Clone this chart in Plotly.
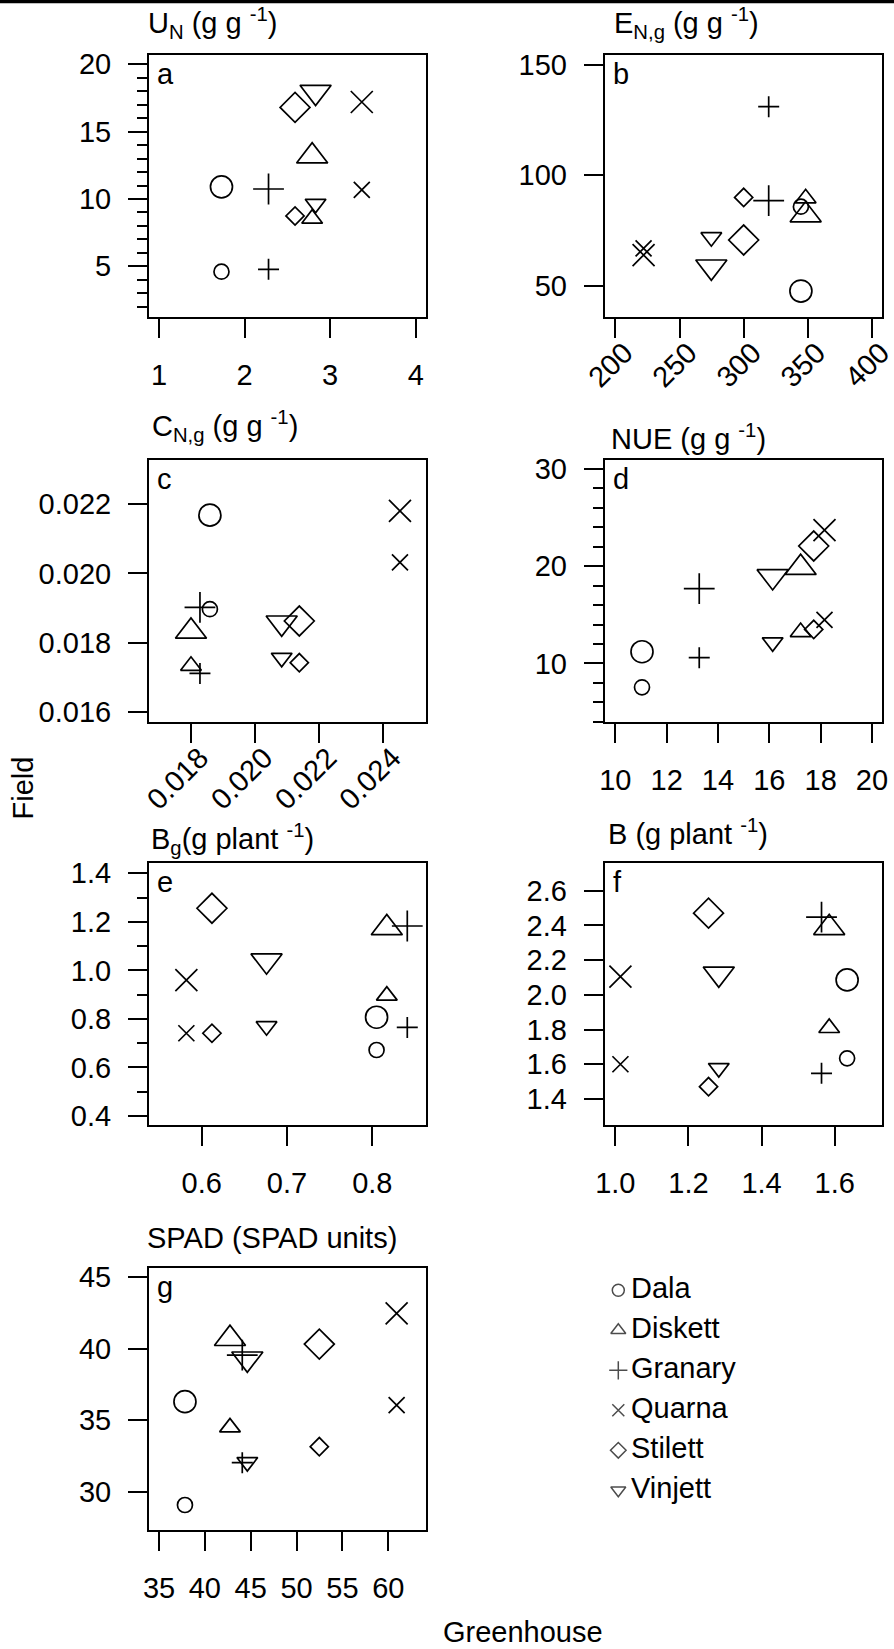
import plotly.graph_objects as go

# ---------------- data ----------------
varieties = ["Dala", "Diskett", "Granary", "Quarna", "Stilett", "Vinjett"]

# a: U_N
un_gh = [1.73, 2.79, 2.28, 3.37, 2.59, 2.83]
un_field_1 = [10.9, 13.18, 10.74, 17.2, 16.8, 17.94]
un_field_2 = [4.6, 8.54, 4.78, 10.67, 8.74, 9.64]

# b: E_N,g
eng_gh = [344.6, 348.3, 319.5, 222.0, 300.0, 274.8]
eng_field_1 = [47.6, 82.0, 88.5, 63.9, 70.7, 58.6]
eng_field_2 = [85.8, 89.6, 131.1, 66.9, 90.0, 72.0]

# c: C_N,g
cng_gh = [0.01859, 0.01800, 0.01828, 0.02452, 0.02138, 0.02083]
cng_field_1 = [0.02168, 0.01833, 0.01902, 0.02180, 0.01863, 0.01858]
cng_field_2 = [0.01897, 0.01734, 0.01712, 0.02032, 0.01743, 0.01757]

# d: NUE
nue_gh = [11.04, 17.22, 13.27, 18.15, 17.73, 16.13]
nue_field_1 = [11.2, 19.85, 17.69, 23.72, 22.08, 18.95]
nue_field_2 = [7.54, 13.22, 10.59, 14.47, 13.5, 12.17]

# e: B_g
bg_gh = [0.805, 0.817, 0.841, 0.582, 0.612, 0.676]
bg_field_1 = [0.807, 1.175, 1.183, 0.960, 1.256, 1.040]
bg_field_2 = [0.672, 0.896, 0.765, 0.741, 0.741, 0.770]

# f: B
b_gh = [1.634, 1.585, 1.564, 1.014, 1.255, 1.283]
b_field_1 = [2.086, 2.386, 2.447, 2.105, 2.470, 2.121]
b_field_2 = [1.634, 1.809, 1.548, 1.600, 1.471, 1.578]

# g: SPAD
spad_gh = [37.83, 42.74, 44.08, 60.91, 52.48, 44.63]
spad_field_1 = [36.3, 40.7, 39.56, 42.48, 40.33, 39.3]
spad_field_2 = [29.07, 34.5, 32.03, 36.06, 33.15, 32.07]

panel_titles = [
    "U<sub>N</sub> (g g <sup>-1</sup>)",
    "E<sub>N,g</sub> (g g <sup>-1</sup>)",
    "C<sub>N,g</sub> (g g <sup>-1</sup>)",
    "NUE (g g <sup>-1</sup>)",
    "B<sub>g</sub>(g plant <sup>-1</sup>)",
    "B (g plant <sup>-1</sup>)",
    "SPAD (SPAD units)",
]
panel_letters = ["a", "b", "c", "d", "e", "f", "g"]

# ---------------- styling ----------------
W, H = 894, 1649
FONT = "Liberation Sans, Arial, Helvetica, sans-serif"
FS = 29
symbols = ["circle-open", "triangle-up-open", "cross-thin-open",
           "x-thin-open", "diamond-open", "triangle-down-open"]
size_1 = [22, 27, 22, 22, 23, 27]
size_2 = [15, 18, 15, 16, 14, 18]
LW = 1.7

panels = [
    dict(xp=(149, 425.7), yp=(55, 316.7), xr=[0.883, 4.117], yr=[1.26, 20.69],
         xt=[1, 2, 3, 4], yt=[5, 10, 15, 20], xf="", yf="", xa=0, ym=1,
         data=(un_gh, un_field_1, un_field_2)),
    dict(xp=(604.7, 882), yp=(55, 317.3), xr=[191.7, 407.8], yr=[35.7, 154.5],
         xt=[200, 250, 300, 350, 400], yt=[50, 100, 150], xf="", yf="", xa=-45, ym=None,
         data=(eng_gh, eng_field_1, eng_field_2)),
    dict(xp=(149, 425.7), yp=(460, 722.3), xr=[0.01669, 0.025323], yr=[0.015712, 0.023268],
         xt=[0.018, 0.020, 0.022, 0.024], yt=[0.016, 0.018, 0.020, 0.022], xf=".3f", yf=".3f",
         xa=-45, ym=None, data=(cng_gh, cng_field_1, cng_field_2)),
    dict(xp=(604.7, 882), yp=(460, 721.7), xr=[9.587, 20.39], yr=[4.0, 30.93],
         xt=[10, 12, 14, 16, 18, 20], yt=[10, 20, 30], xf="", yf="", xa=0, ym=2,
         data=(nue_gh, nue_field_1, nue_field_2)),
    dict(xp=(149, 425.7), yp=(862.7, 1125), xr=[0.5382, 0.8626], yr=[0.363, 1.4437],
         xt=[0.6, 0.7, 0.8], yt=[0.4, 0.6, 0.8, 1.0, 1.2, 1.4], xf=".1f", yf=".1f", xa=0, ym=0.1,
         data=(bg_gh, bg_field_1, bg_field_2)),
    dict(xp=(604.7, 882), yp=(862.7, 1125), xr=[0.971, 1.7294], yr=[1.2502, 2.761],
         xt=[1.0, 1.2, 1.4, 1.6], yt=[1.4, 1.6, 1.8, 2.0, 2.2, 2.4, 2.6], xf=".1f", yf=".1f",
         xa=0, ym=None, data=(b_gh, b_field_1, b_field_2)),
    dict(xp=(149, 425.7), yp=(1267.7, 1530), xr=[33.91, 64.08], yr=[27.32, 45.67],
         xt=[35, 40, 45, 50, 55, 60], yt=[30, 35, 40, 45], xf="", yf="", xa=0, ym=None,
         data=(spad_gh, spad_field_1, spad_field_2)),
]
title_pos = [(146, 23), (612, 23), (150, 426), (609, 437), (149, 839), (606, 832), (145, 1238)]


def px_x(v):
    return v / W


def px_y(v):
    return 1 - v / H


fig = go.Figure()
layout = dict(
    template="none",
    width=W, height=H, autosize=False,
    margin=dict(l=0, r=0, t=0, b=0, pad=0, autoexpand=False),
    paper_bgcolor="white", plot_bgcolor="white",
    showlegend=False,
    font=dict(family=FONT, size=FS, color="black"),
)
annotations = []

for i, p in enumerate(panels):
    k = "" if i == 0 else str(i + 1)
    xa_name, ya_name = "xaxis" + k, "yaxis" + k
    xref, yref = "x" + k, "y" + k
    gh, f1, f2 = p["data"]
    for j, v in enumerate(varieties):
        for fvals, sizes in ((f1, size_1), (f2, size_2)):
            fig.add_trace(go.Scatter(
                x=[gh[j]], y=[fvals[j]], mode="markers", name=v,
                xaxis=xref, yaxis=yref, hoverinfo="skip", cliponaxis=False,
                marker=dict(symbol=symbols[j], size=sizes[j], color="black",
                            line=dict(color="black", width=LW)),
            ))
    rotated = p["xa"] != 0
    xaxis = dict(
        domain=[px_x(p["xp"][0]), px_x(p["xp"][1])], range=p["xr"], automargin=False,
        anchor=yref, showline=True, mirror=True, linecolor="black", linewidth=2,
        showgrid=False, zeroline=False, ticks="outside", ticklen=19, tickwidth=2,
        tickcolor="black", tickvals=p["xt"], tickformat=p["xf"],
        tickangle=p["xa"], ticklabelstandoff=(-14 if rotated else 12),
        ticklabelshift=(9 if rotated else 0), ticklabeloverflow="allow",
        tickfont=dict(family=FONT, size=FS, color="black"),
    )
    yaxis = dict(
        domain=[px_y(p["yp"][1]), px_y(p["yp"][0])], range=p["yr"], automargin=False,
        anchor=xref, showline=True, mirror=True, linecolor="black", linewidth=2,
        showgrid=False, zeroline=False, ticks="outside", ticklen=19, tickwidth=2,
        tickcolor="black", tickvals=p["yt"], tickformat=p["yf"], ticklabelstandoff=11,
        ticklabeloverflow="allow",
        tickfont=dict(family=FONT, size=FS, color="black"),
    )
    if p["ym"] is not None:
        yaxis["minor"] = dict(dtick=p["ym"], tick0=0, ticks="outside", ticklen=10,
                              tickwidth=2, tickcolor="black", showgrid=False)
    layout[xa_name] = xaxis
    layout[ya_name] = yaxis
    tx, ty = title_pos[i]
    annotations.append(dict(text=panel_titles[i], x=px_x(tx), y=px_y(ty), xref="paper",
                            yref="paper", xanchor="left", yanchor="middle", showarrow=False,
                            font=dict(family=FONT, size=FS, color="black")))
    annotations.append(dict(text=panel_letters[i], x=px_x(p["xp"][0] + 6),
                            y=px_y(p["yp"][0] + 1), xref="paper", yref="paper",
                            xanchor="left", yanchor="top", showarrow=False,
                            font=dict(family=FONT, size=FS, color="black")))

# legend panel built from the variety list
leg_x = "x8"
leg_y = "y8"
fig.add_trace(go.Scatter(
    x=[28.3] * len(varieties), y=list(range(len(varieties))), mode="markers",
    xaxis=leg_x, yaxis=leg_y, hoverinfo="skip",
    marker=dict(symbol=symbols, size=[12, 13, 13, 12, 12, 13], color="black",
                line=dict(color="black", width=1.5)),
))
fig.add_trace(go.Scatter(
    x=[41] * len(varieties), y=list(range(len(varieties))), mode="text",
    text=varieties, textposition="middle right", xaxis=leg_x, yaxis=leg_y,
    hoverinfo="skip", textfont=dict(family=FONT, size=FS, color="black"),
))
layout["xaxis8"] = dict(domain=[px_x(590), px_x(800)], range=[0, 210], visible=False,
                        anchor="y8", automargin=False)
layout["yaxis8"] = dict(domain=[px_y(1510.3), px_y(1270.3)], range=[5.5, -0.5],
                        visible=False, anchor="x8", automargin=False)

annotations.append(dict(text="Field", x=px_x(22.5), y=px_y(788), xref="paper", yref="paper",
                        xanchor="center", yanchor="middle", textangle=-90, showarrow=False,
                        font=dict(family=FONT, size=FS, color="black")))
annotations.append(dict(text="Greenhouse", x=px_x(523), y=px_y(1632), xref="paper",
                        yref="paper", xanchor="center", yanchor="middle", showarrow=False,
                        font=dict(family=FONT, size=FS, color="black")))
layout["annotations"] = annotations
layout["shapes"] = [dict(type="rect", xref="paper", yref="paper", x0=0, x1=1,
                         y0=px_y(3.3), y1=1, fillcolor="black", line=dict(width=0))]

fig.update_layout(**layout)
fig.write_html("out.html", config={"displayModeBar": False},
               post_script="document.body.style.margin='0px';document.body.style.overflow='hidden';")
